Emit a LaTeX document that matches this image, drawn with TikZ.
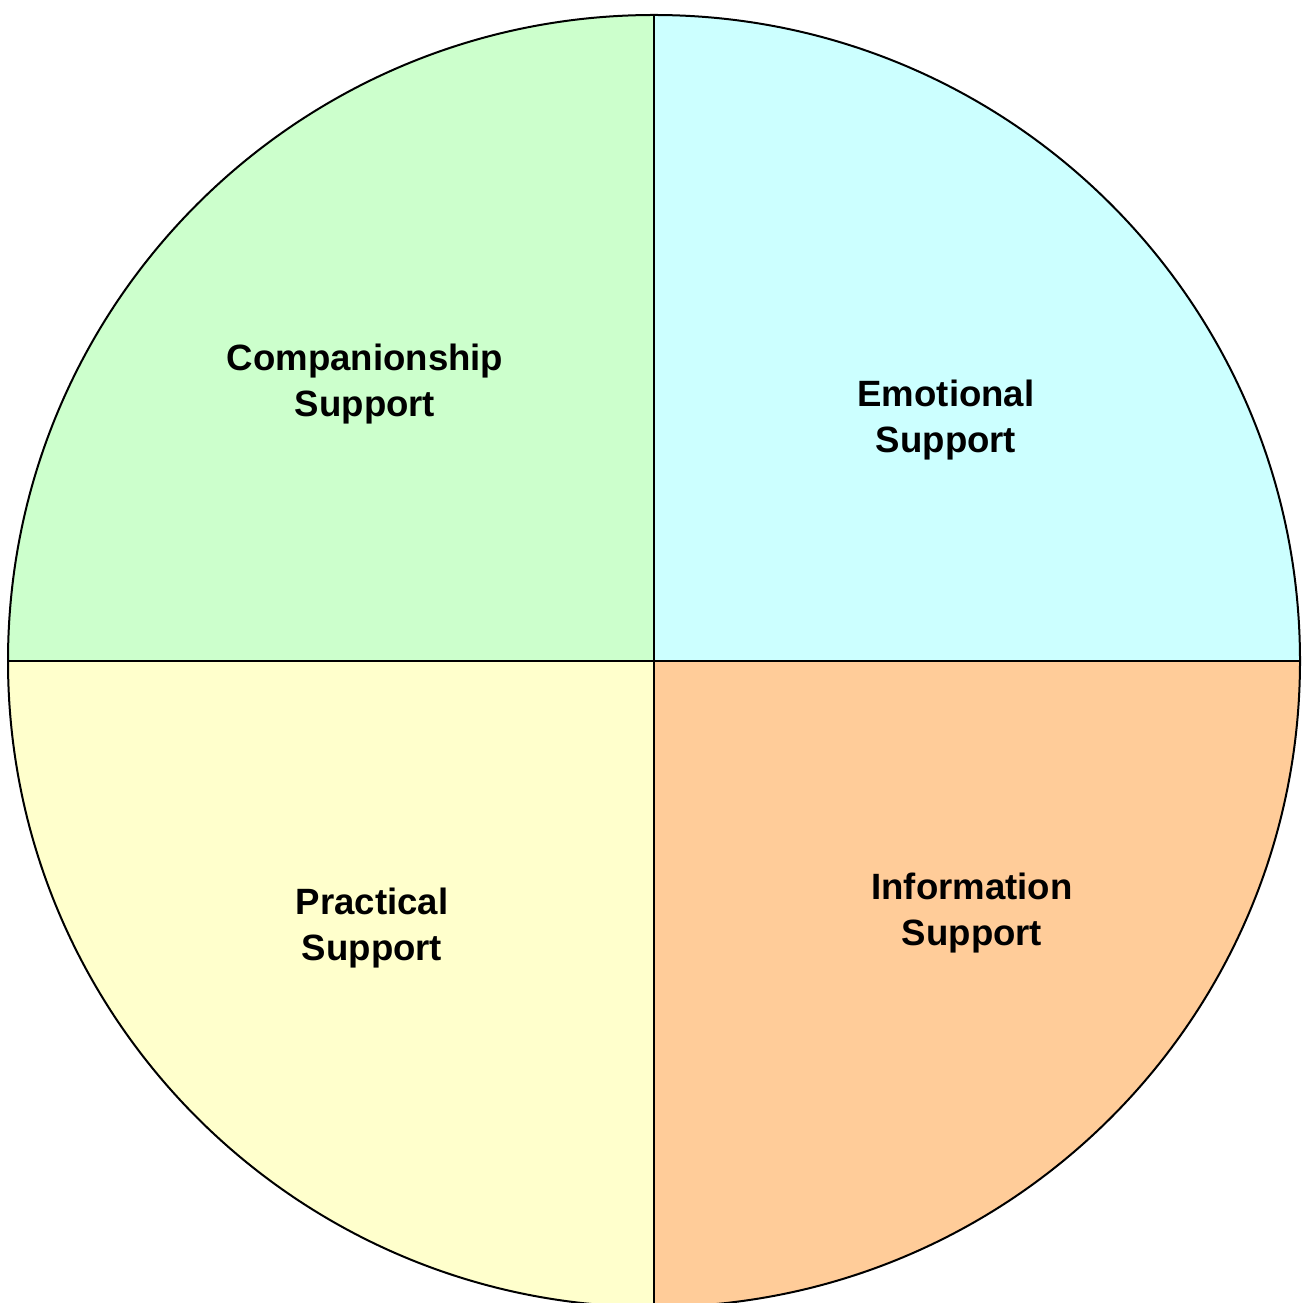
\documentclass[tikz,border=0pt]{standalone}
\usepackage{fontspec}
\setmainfont{Liberation Sans}
\begin{document}
\begin{tikzpicture}[x=1pt,y=1pt,
  lbl/.style={font=\fontsize{36.6}{46}\selectfont\bfseries, align=center, text=black}]
\useasboundingbox (0,0) rectangle (1303,1302);
\coordinate (c) at (654,641);
\def\R{646}
\fill[fill={rgb,255:red,204;green,255;blue,255}] (c) -- ++(0:\R) arc (0:90:\R) -- cycle;
\fill[fill={rgb,255:red,204;green,255;blue,204}] (c) -- ++(90:\R) arc (90:180:\R) -- cycle;
\fill[fill={rgb,255:red,255;green,255;blue,204}] (c) -- ++(180:\R) arc (180:270:\R) -- cycle;
\fill[fill={rgb,255:red,255;green,204;blue,153}] (c) -- ++(270:\R) arc (270:360:\R) -- cycle;
\draw[line width=2pt] (c) circle (\R);
\draw[line width=2.2pt] (c) ++(0,\R) -- ++(0,-2*\R);
\draw[line width=2.2pt] (c) ++(-\R,0) -- ++(2*\R,0);
\node[lbl] (comp) at (365,918) {Companionship\\Support};
\node[lbl] (emo) at (946,882) {Emotional\\Support};
\node[lbl] (prac) at (372,374) {Practical\\Support};
\node[lbl] (info) at (972,389) {Information\\Support};
\end{tikzpicture}
\end{document}
